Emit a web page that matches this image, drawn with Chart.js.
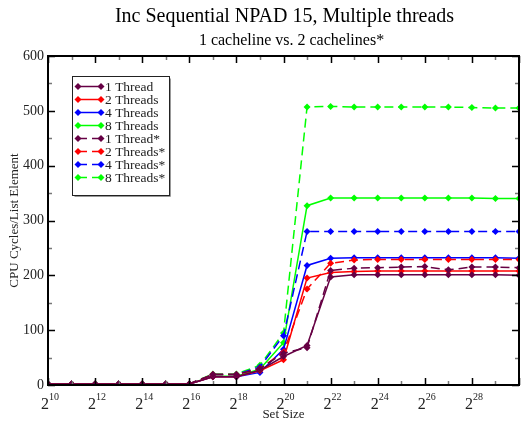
<!DOCTYPE html>
<html>
<head>
<meta charset="utf-8">
<script src="https://cdn.jsdelivr.net/npm/chart.js@4"></script>
<style>
    html, body { margin: 0; padding: 0; background: #fff; }
    #wrap { width: 523px; height: 421px; }
</style>
</head>
<body>
<div id="wrap"><canvas id="chart" width="523" height="421"></canvas></div>
<script>
// set size exponents (2^n)
var exponents = [10, 11, 12, 13, 14, 15, 16, 17, 18, 19, 20, 21, 22, 23, 24, 25, 26, 27, 28, 29, 30];

var oneThread      = [2, 2, 2, 2, 2, 2, 2, 15, 15, 27, 52, 72, 197, 201, 201, 201, 201, 201, 201, 201, 200];
var twoThreads     = [2, 2, 2, 2, 2, 2, 2, 15, 15, 26, 46, 195, 205, 207, 208, 208, 208, 208, 208, 208, 208];
var fourThreads    = [2, 2, 2, 2, 2, 2, 2, 15, 15, 23, 65, 218, 231, 232, 232, 232, 232, 232, 232, 232, 231];
var eightThreads   = [2, 2, 2, 2, 2, 2, 2, 16, 16, 29, 77, 327, 341, 341, 341, 341, 341, 341, 341, 340, 340];
var oneThreadS     = [2, 2, 2, 2, 2, 2, 2, 19, 19, 30, 58, 68, 209, 213, 214, 215, 216, 210, 215, 215, 214];
var twoThreadsS    = [2, 2, 2, 2, 2, 2, 2, 19, 19, 30, 60, 175, 222, 228, 229, 229, 229, 229, 229, 229, 229];
var fourThreadsS   = [2, 2, 2, 2, 2, 2, 2, 19, 19, 33, 90, 280, 280, 280, 280, 280, 280, 280, 280, 280, 280];
var eightThreadsS  = [2, 2, 2, 2, 2, 2, 2, 20, 20, 36, 95, 507, 508, 507, 507, 507, 507, 507, 506, 505, 505];

var seriesNames = ['1 Thread', '2 Threads', '4 Threads', '8 Threads', '1 Thread*', '2 Threads*', '4 Threads*', '8 Threads*'];
var seriesValues = [oneThread, twoThreads, fourThreads, eightThreads, oneThreadS, twoThreadsS, fourThreadsS, eightThreadsS];
var seriesColors = ['#660044', '#ff0000', '#0000ff', '#00ff00', '#660044', '#ff0000', '#0000ff', '#00ff00'];

var yTickValues = [0, 100, 200, 300, 400, 500, 600];
var xTickExponents = [10, 12, 14, 16, 18, 20, 22, 24, 26, 28];

var serif = '"Liberation Serif", "DejaVu Serif", serif';

function toPoints(values) {
    return values.map(function(v, i) { return { x: exponents[i], y: v }; });
}

var datasets = seriesNames.map(function(name, i) {
    var dashed = i >= 4;
    return {
        label: name,
        data: toPoints(seriesValues[i]),
        borderColor: seriesColors[i],
        backgroundColor: seriesColors[i],
        borderWidth: 1.5,
        borderDash: dashed ? [9, 5] : [],
        pointStyle: 'rectRot',
        pointRadius: 3.5,
        pointBorderWidth: 0,
        tension: 0
    };
});
// draw dashed series first so solid ones overlay like the reference
datasets.forEach(function(d, i) { d.order = i >= 4 ? 0 : 1; });

function drawDiamond(ctx, x, y, r, color) {
    ctx.beginPath();
    ctx.moveTo(x, y - r);
    ctx.lineTo(x + r, y);
    ctx.lineTo(x, y + r);
    ctx.lineTo(x - r, y);
    ctx.closePath();
    ctx.fillStyle = color;
    ctx.fill();
}

var framePlugin = {
    id: 'frame',
    afterDraw: function(chart) {
        var ctx = chart.ctx;
        var a = chart.chartArea;
        var xs = chart.scales.x;
        var ys = chart.scales.y;
        ctx.save();

        // ticks (inward, mirrored)
        var e, px, py, v;
        for (e = 10; e <= 30; e++) {
            px = Math.round(xs.getPixelForValue(e)) + 0.5;
            var major = e % 2 === 0;
            var len = major ? 7 : 4;
            ctx.strokeStyle = major ? '#000' : '#777';
            ctx.lineWidth = 1.5;
            ctx.beginPath();
            ctx.moveTo(px, a.bottom); ctx.lineTo(px, a.bottom - len);
            ctx.moveTo(px, a.top); ctx.lineTo(px, a.top + len);
            ctx.stroke();
        }
        for (v = 0; v <= 600; v += 50) {
            py = Math.round(ys.getPixelForValue(v)) + 0.5;
            var majorY = v % 100 === 0;
            var lenY = majorY ? 7 : 4;
            ctx.strokeStyle = majorY ? '#000' : '#777';
            ctx.lineWidth = 1.5;
            ctx.beginPath();
            ctx.moveTo(a.left, py); ctx.lineTo(a.left + lenY, py);
            ctx.moveTo(a.right, py); ctx.lineTo(a.right - lenY, py);
            ctx.stroke();
        }

        // frame
        ctx.strokeStyle = '#000';
        ctx.lineWidth = 2;
        ctx.strokeRect(a.left, a.top, a.right - a.left, a.bottom - a.top);

        // y tick labels
        ctx.fillStyle = '#222';
        ctx.font = '14px ' + serif;
        ctx.textAlign = 'right';
        ctx.textBaseline = 'middle';
        yTickValues.forEach(function(t) {
            ctx.fillText(String(t), a.left - 4, ys.getPixelForValue(t));
        });

        // x tick labels 2^n
        ctx.textBaseline = 'alphabetic';
        xTickExponents.forEach(function(n) {
            var cx = xs.getPixelForValue(n);
            ctx.font = '16px ' + serif;
            ctx.textAlign = 'right';
            ctx.fillText('2', cx + 1, a.bottom + 24);
            ctx.font = '10px ' + serif;
            ctx.textAlign = 'left';
            ctx.fillText(String(n), cx + 1, a.bottom + 15);
        });

        // axis titles
        ctx.fillStyle = '#222';
        ctx.font = '13px ' + serif;
        ctx.textAlign = 'center';
        ctx.textBaseline = 'alphabetic';
        ctx.fillText('Set Size', (a.left + a.right) / 2, 418);
        ctx.save();
        ctx.translate(18, (a.top + a.bottom) / 2);
        ctx.rotate(-Math.PI / 2);
        ctx.fillText('CPU Cycles/List Element', 0, 0);
        ctx.restore();

        // titles
        ctx.font = '20px ' + serif;
        ctx.fillStyle = '#000';
        ctx.textBaseline = 'middle';
        ctx.fillText('Inc Sequential NPAD 15, Multiple threads', (a.left + a.right) / 2 + 1, 17);
        ctx.font = '16px ' + serif;
        ctx.fillText('1 cacheline vs. 2 cachelines*', (a.left + a.right) / 2 + 8, 41);

        // legend
        var bx = 72.5, by = 76.5, bw = 97, bh = 119;
        ctx.fillStyle = '#fff';
        ctx.fillRect(bx, by, bw, bh);
        ctx.strokeStyle = '#999';
        ctx.lineWidth = 1;
        ctx.beginPath();
        ctx.moveTo(bx + bw + 1, by + 2); ctx.lineTo(bx + bw + 1, by + bh + 1); ctx.lineTo(bx + 2, by + bh + 1);
        ctx.stroke();
        ctx.strokeStyle = '#222';
        ctx.strokeRect(bx, by, bw, bh);
        ctx.font = '13.5px ' + serif;
        ctx.textAlign = 'left';
        ctx.textBaseline = 'middle';
        chart.data.datasets.forEach(function(d, i) {
            var ly = 86.5 + i * 13;
            ctx.strokeStyle = d.borderColor;
            ctx.lineWidth = 1.5;
            ctx.setLineDash(d.borderDash);
            ctx.beginPath();
            ctx.moveTo(78, ly); ctx.lineTo(101, ly);
            ctx.stroke();
            ctx.setLineDash([]);
            drawDiamond(ctx, 78, ly, 3.5, d.borderColor);
            drawDiamond(ctx, 101, ly, 3.5, d.borderColor);
            ctx.fillStyle = '#222';
            ctx.fillText(d.label, 105, ly + 1);
        });

        ctx.restore();
    }
};

new Chart(document.getElementById('chart').getContext('2d'), {
    type: 'line',
    data: { datasets: datasets },
    options: {
        responsive: false,
        animation: false,
        devicePixelRatio: 1,
        layout: { padding: { left: 48, right: 1, top: 56, bottom: 36 } },
        plugins: {
            legend: { display: false },
            title: { display: false },
            tooltip: { enabled: false }
        },
        scales: {
            x: { type: 'linear', min: 10, max: 30, display: false },
            y: { type: 'linear', min: 0, max: 600, display: false }
        }
    },
    plugins: [framePlugin]
});
</script>
</body>
</html>
